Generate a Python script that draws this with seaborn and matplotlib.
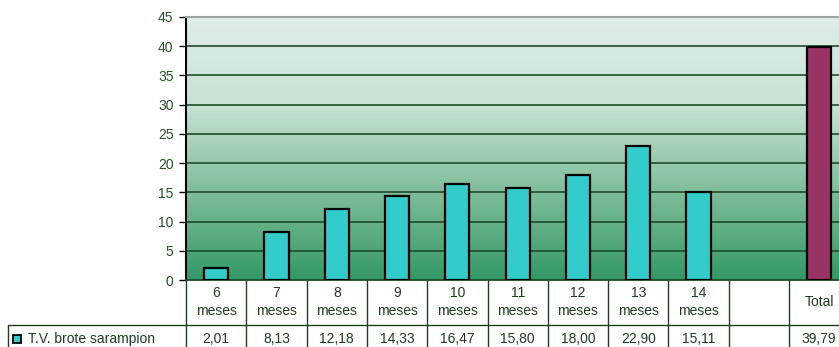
import numpy as np
import pandas as pd
import matplotlib
matplotlib.use("Agg")
import matplotlib.pyplot as plt
from matplotlib.patches import Rectangle
from matplotlib.colors import LinearSegmentedColormap
import seaborn as sns

# --- data -------------------------------------------------------------
months = ["6", "7", "8", "9", "10", "11", "12", "13", "14"]
categories = [f"{m}\nmeses" for m in months] + [" ", "Total"]
values = [2.01, 8.13, 12.18, 14.33, 16.47, 15.80, 18.00, 22.90, 15.11, np.nan, 39.79]
value_labels = ["2,01", "8,13", "12,18", "14,33", "16,47", "15,80", "18,00",
                "22,90", "15,11", "", "39,79"]
series_name = "T.V. brote sarampion"
yticks = [0, 5, 10, 15, 20, 25, 30, 35, 40, 45]

bar_colors = ["#33CCCC"] * 10 + ["#993366"]

sns.set_theme(style="white")
plt.rcParams["font.family"] = ["Liberation Sans", "DejaVu Sans"]

W, H = 839, 347
fig = plt.figure(figsize=(W / 100, H / 100), dpi=100)
fig.patch.set_facecolor("white")

# plot area in pixels
left_px, top_px, bottom_px = 186, 17, 280
slot_px = 60.3
ax_w_px = slot_px * len(categories)
ax_h_px = bottom_px - top_px
ax = fig.add_axes([left_px / W, (H - bottom_px) / H, ax_w_px / W, ax_h_px / H])

df = pd.DataFrame({"cat": categories, "val": values})
sns.barplot(data=df, x="cat", y="val", hue="cat", order=categories,
            palette=dict(zip(categories, bar_colors)), legend=False,
            width=0.4, edgecolor="black", linewidth=1.6, saturation=1,
            ax=ax, zorder=3)

# gradient background
cmap = LinearSegmentedColormap.from_list("bg", ["#339966", "#7fbd9a", "#c8e2d3", "#e0eee6"])
grad = np.linspace(0, 1, 256).reshape(-1, 1)
ax.imshow(grad, extent=[0, 1, 0, 1], transform=ax.transAxes, aspect="auto",
          cmap=cmap, origin="lower", zorder=0)

ax.set_xlim(-0.5, len(categories) - 0.5)
ax.set_ylim(0, 45)
ax.set_yticks(yticks)
ax.set_xticks([])
ax.set_xlabel("")
ax.set_ylabel("")
for y in yticks[1:-1]:
    ax.axhline(y, color="#1e4d2a", lw=1.2, zorder=1)

ax.spines["left"].set_color("black")
ax.spines["left"].set_linewidth(1.5)
ax.spines["top"].set_color("#9aa59c")
ax.spines["top"].set_linewidth(1.5)
ax.spines["bottom"].set_color("#1e4d2a")
ax.spines["bottom"].set_linewidth(1.3)
ax.spines["right"].set_visible(False)
ax.tick_params(axis="y", direction="out", length=5, width=1, color="black",
               labelsize=10, labelcolor="#2a4f2a", pad=4, left=True)

# --- data table under the plot -------------------------------------------
line_c = "#1e4020"
text_c = "#1f3b1f"
fs = 10
tr = ax.get_xaxis_transform()

def yf(px):
    return (bottom_px - px) / ax_h_px

row1_bottom = yf(325)
fig_bottom = yf(H)

for i in range(len(categories) + 1):
    x = i - 0.5
    ax.plot([x, x], [0, fig_bottom], transform=tr, color=line_c, lw=1,
            clip_on=False, zorder=5)
ax.plot([-0.5, len(categories)], [row1_bottom, row1_bottom], transform=tr,
        color=line_c, lw=1, clip_on=False)

for i, cat in enumerate(categories):
    if cat.strip() == "":
        continue
    if "\n" in cat:
        top, bot = cat.split("\n")
        ax.text(i, yf(293), top, transform=tr, ha="center", va="center",
                fontsize=fs, color=text_c)
        ax.text(i, yf(311), bot, transform=tr, ha="center", va="center",
                fontsize=fs, color=text_c)
    else:
        ax.text(i, yf(302), cat, transform=tr, ha="center", va="center",
                fontsize=fs, color=text_c)
    ax.text(i, yf(339), value_labels[i], transform=tr, ha="center", va="center",
            fontsize=fs, color=text_c)

# legend cell on the left of the value row
fig.add_artist(plt.Line2D([8 / W, left_px / W], [(H - 325) / H, (H - 325) / H],
                          color=line_c, lw=1))
fig.add_artist(plt.Line2D([8 / W, 8 / W], [(H - 325) / H, 0],
                          color=line_c, lw=1))
fig.add_artist(Rectangle((12.5 / W, (H - 343) / H), 8.5 / W, 8 / H,
                         facecolor="#33CCCC", edgecolor="black", lw=1.3,
                         transform=fig.transFigure))
fig.text(28 / W, (H - 339) / H, series_name, ha="left", va="center",
         fontsize=fs, color=text_c)

fig.savefig("out.png", dpi=100)
